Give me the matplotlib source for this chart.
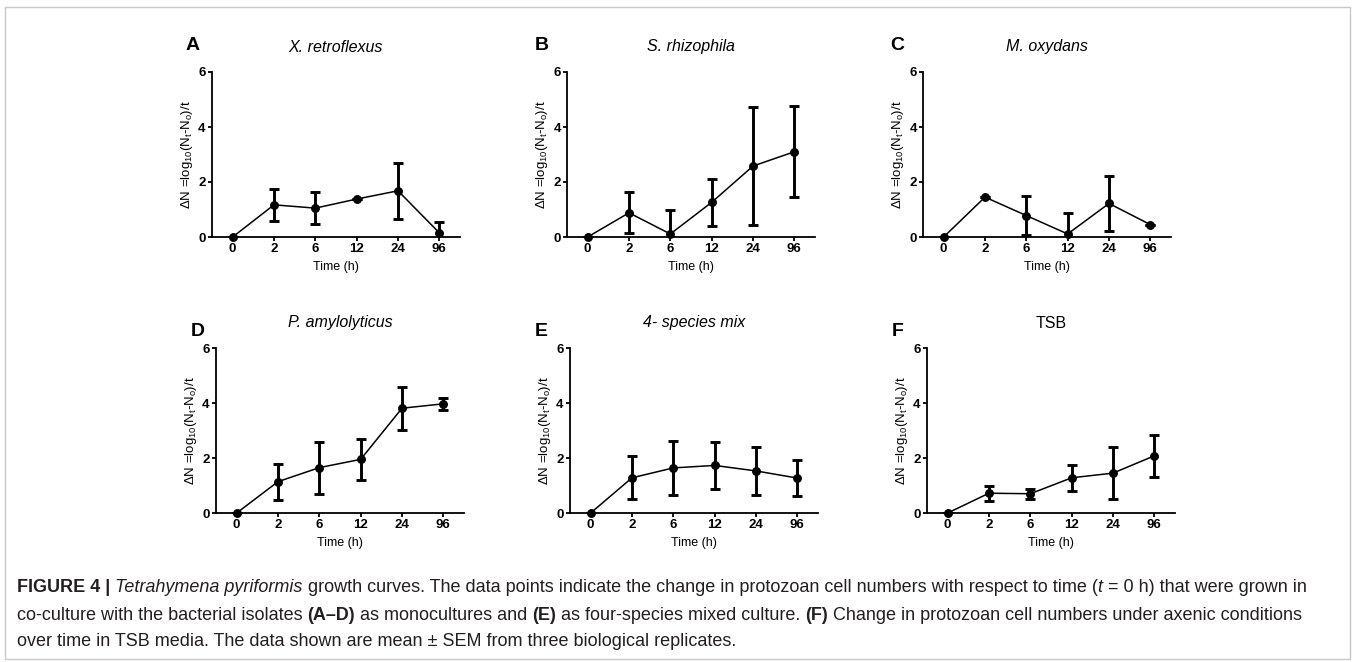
import matplotlib
matplotlib.use("Agg")
import matplotlib.pyplot as plt
from matplotlib.patches import Rectangle
from matplotlib import font_manager

plt.rcParams['font.family'] = ['Liberation Sans', 'DejaVu Sans']
plt.rcParams['mathtext.fontset'] = 'custom'
plt.rcParams['mathtext.rm'] = 'Liberation Sans'
plt.rcParams['mathtext.it'] = 'Liberation Sans:italic'
plt.rcParams['mathtext.bf'] = 'Liberation Sans:bold'

# ---------------- data ----------------
time_labels = ["0", "2", "6", "12", "24", "96"]

titles = ["X. retroflexus", "S. rhizophila", "M. oxydans",
          "P. amylolyticus", "4- species mix", "TSB"]
title_italic = [True, True, True, True, True, False]
panel_letters = ["A", "B", "C", "D", "E", "F"]

xr_mean = [0, 1.17, 1.05, 1.38, 1.68, 0.15]
xr_sem = [0, 0.58, 0.58, 0.0, 1.02, 0.38]

sr_mean = [0, 0.88, 0.11, 1.26, 2.58, 3.10]
sr_sem = [0, 0.74, 0.89, 0.86, 2.15, 1.65]

mo_mean = [0, 1.45, 0.78, 0.11, 1.22, 0.45]
mo_sem = [0, 0.0, 0.72, 0.75, 1.00, 0.0]

pa_mean = [0, 1.14, 1.65, 1.95, 3.81, 3.97]
pa_sem = [0, 0.65, 0.95, 0.75, 0.79, 0.22]

mix_mean = [0, 1.28, 1.64, 1.73, 1.53, 1.27]
mix_sem = [0, 0.78, 0.98, 0.87, 0.86, 0.66]

tsb_mean = [0, 0.72, 0.70, 1.28, 1.45, 2.08]
tsb_sem = [0, 0.27, 0.18, 0.47, 0.95, 0.77]

means = [xr_mean, sr_mean, mo_mean, pa_mean, mix_mean, tsb_mean]
sems = [xr_sem, sr_sem, mo_sem, pa_sem, mix_sem, tsb_sem]

ylabel = r"ΔN =log$_{10}$(N$_{\mathrm{t}}$-N$_{\mathrm{o}}$)/t"

# ---------------- layout ----------------
W, H = 1355, 662
fig = plt.figure(figsize=(W / 100, H / 100), dpi=100)
fig.patch.set_facecolor('white')

# border
fig.patches.append(Rectangle((5 / W, 3 / H), (W - 10) / W, (H - 10) / H,
                             transform=fig.transFigure, fill=False,
                             edgecolor='#c8c8c8', lw=1.0))

lefts = [212, 567, 923, 216, 570, 927]
tops = [72, 72, 72, 348, 348, 348]
letter_x = [186, 535, 890, 191, 535, 892]
letter_y = [45, 45, 45, 332, 332, 332]
title_y = [47, 47, 47, 323, 323, 323]
aw, ah = 248, 165

xs = list(range(len(time_labels)))

for i in range(6):
    l, t = lefts[i], tops[i]
    ax = fig.add_axes([l / W, 1 - (t + ah) / H, aw / W, ah / H])
    sem_i = sems[i]
    ax.errorbar(xs, means[i], yerr=sem_i, fmt='none', ecolor='black',
                elinewidth=2.1, capsize=3.4, capthick=2.1, clip_on=True, zorder=2)
    ax.plot(xs, means[i], color='black', lw=1.1, marker='o', ms=5.4,
            clip_on=False, zorder=3)
    ax.set_xlim(-0.5, 5.5)
    ax.set_ylim(0, 6)
    ax.set_yticks([0, 2, 4, 6])
    ax.set_xticks(xs)
    ax.set_xticklabels(time_labels)
    for s in ['top', 'right']:
        ax.spines[s].set_visible(False)
    for s in ['left', 'bottom']:
        ax.spines[s].set_linewidth(1.3)
    ax.tick_params(axis='both', direction='out', length=3.0, width=1.3,
                   labelsize=9.5, pad=1.5)
    for lab in ax.get_xticklabels() + ax.get_yticklabels():
        lab.set_fontweight('bold')
    ax.set_xlabel("Time (h)", fontsize=9, labelpad=4)
    ax.set_ylabel(ylabel, fontsize=9.5)
    ax.yaxis.set_label_coords(-25.0 / aw, 0.5)
    ax.yaxis.label.set_va('center')
    ax.patch.set_alpha(0)

    cx = (l + aw / 2) / W
    fig.text(cx, 1 - title_y[i] / H, titles[i], ha='center', va='center',
             fontsize=11.5, fontstyle='italic' if title_italic[i] else 'normal')
    fig.text(letter_x[i] / W, 1 - letter_y[i] / H, panel_letters[i],
             ha='left', va='center', fontsize=14, fontweight='bold')

# ---------------- caption ----------------
cap_lines = [
    [("FIGURE 4 | ", 'bold', 'normal'),
     ("Tetrahymena pyriformis", 'normal', 'italic'),
     (" growth curves. The data points indicate the change in protozoan cell numbers with respect to time (", 'normal', 'normal'),
     ("t", 'normal', 'italic'),
     (" = 0 h) that were grown in", 'normal', 'normal')],
    [("co-culture with the bacterial isolates ", 'normal', 'normal'),
     ("(A\u2013D)", 'bold', 'normal'),
     (" as monocultures and ", 'normal', 'normal'),
     ("(E)", 'bold', 'normal'),
     (" as four-species mixed culture. ", 'normal', 'normal'),
     ("(F)", 'bold', 'normal'),
     (" Change in protozoan cell numbers under axenic conditions", 'normal', 'normal')],
    [("over time in TSB media. The data shown are mean \u00b1 SEM from three biological replicates.", 'normal', 'normal')],
]
cap_y = [587, 615, 641]
cap_x0 = 17

names = {f.name for f in font_manager.fontManager.ttflist}
cap_family = ['Liberation Sans Narrow', 'Liberation Sans'] if 'Liberation Sans Narrow' in names else ['Liberation Sans']

renderer = fig.canvas.get_renderer()


def draw_line(pieces, y, size, draw=True):
    x = cap_x0
    made = []
    for txt, wt, st in pieces:
        tt = fig.text(x / W, 1 - y / H, txt, fontsize=size, fontweight=wt,
                      fontstyle=st, ha='left', va='center', color='#231f20',
                      family=cap_family)
        bb = tt.get_window_extent(renderer)
        x = bb.x1
        made.append(tt)
    if not draw:
        for tt in made:
            tt.remove()
    return x


base = 11.0
end = draw_line(cap_lines[0], cap_y[0], base, draw=False)
size = base * (1303 - cap_x0) / (end - cap_x0)
size = min(size, 13.5)
for pieces, y in zip(cap_lines, cap_y):
    draw_line(pieces, y, size)

fig.savefig("out.png", dpi=100, facecolor='white')
